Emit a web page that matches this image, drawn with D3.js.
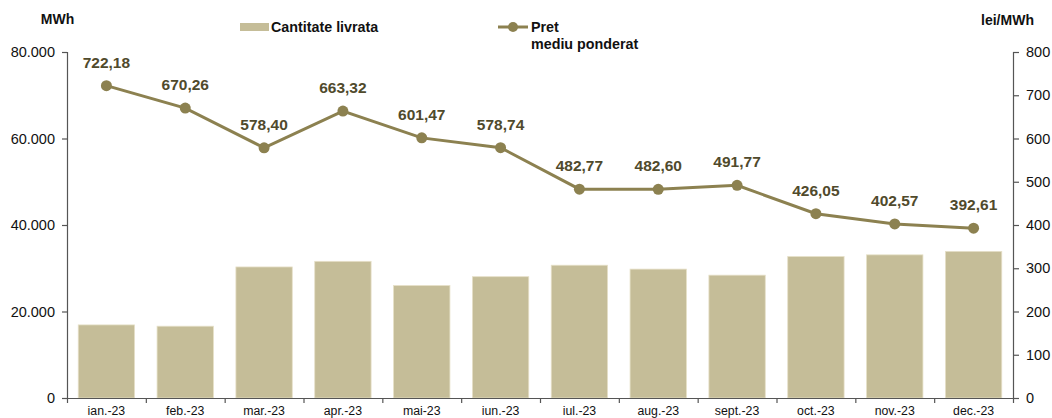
<!DOCTYPE html>
<html><head><meta charset="utf-8">
<script src="https://cdn.jsdelivr.net/npm/d3@7"></script>
<style>body{margin:0;background:#fff}svg{display:block}text{font-family:"Liberation Sans",Arial,sans-serif}</style>
</head><body><svg id="c" width="1052" height="418"></svg>
<script>
const months = ["ian.-23","feb.-23","mar.-23","apr.-23","mai-23","iun.-23","iul.-23","aug.-23","sept.-23","oct.-23","nov.-23","dec.-23"];
const quantity = [16900,16600,30300,31600,26000,28050,30700,29800,28400,32700,33100,33900];
const price = [722.18,670.26,578.40,663.32,601.47,578.74,482.77,482.60,491.77,426.05,402.57,392.61];
const leftTicks = [0,20000,40000,60000,80000];
const rightTicks = [0,100,200,300,400,500,600,700,800];

const svg = d3.select("#c");
const L = 67, R = 1013, T = 52, B = 398;
const x = d3.scaleBand().domain(months).range([L, R]).paddingInner(0.285).paddingOuter(0.1425);
const yL = d3.scaleLinear().domain([0, 80000]).range([B, T]);
const yR = d3.scaleLinear().domain([0, 800]).range([B, T]);
const barCol = "#C5BD98", lineCol = "#8C8150", lblCol = "#504A2C";

svg.append("g").selectAll("rect").data(quantity).join("rect")
  .attr("x", (d,i) => x(months[i])).attr("width", x.bandwidth())
  .attr("y", d => yL(d)).attr("height", d => B - yL(d))
  .attr("fill", barCol).attr("stroke", "#E6E0C8").attr("stroke-width", 0.8);

const fmtL = d => d === 0 ? "0" : d3.format(",")(d).replace(/,/g, ".");
const gL = svg.append("g").attr("transform", `translate(${L},0)`)
  .call(d3.axisLeft(yL).tickValues(leftTicks).tickFormat(fmtL).tickSize(5).tickPadding(7));
const gR = svg.append("g").attr("transform", `translate(${R},0)`)
  .call(d3.axisRight(yR).tickValues(rightTicks).tickSize(6).tickPadding(7));
const xb = d3.scaleLinear().domain([0, 12]).range([L, R]);
const gX = svg.append("g").attr("transform", `translate(0,${B})`)
  .call(d3.axisBottom(xb).tickValues(d3.range(0, 13)).tickFormat("").tickSize(5).tickSizeOuter(0));
gX.append("g").selectAll("text").data(months).join("text")
  .attr("x", d => x(d) + x.bandwidth()/2).attr("y", 17).attr("text-anchor", "middle")
  .attr("fill", "#111").attr("font-size", 12.3).text(d => d);
[gL, gR, gX].forEach(g => {
  g.selectAll(".domain").attr("stroke", "#555").attr("stroke-width", 1.2);
  g.selectAll(".tick line").attr("stroke", "#555").attr("stroke-width", 1.2);
});
gL.selectAll(".tick text").attr("font-size", 14.5).attr("fill", "#111");
gR.selectAll(".tick text").attr("font-size", 14.5).attr("fill", "#111");

const cx = (d,i) => x(months[i]) + x.bandwidth()/2;
svg.append("path").datum(price)
  .attr("d", d3.line().x(cx).y(d => yR(d)))
  .attr("fill", "none").attr("stroke", lineCol).attr("stroke-width", 3);
svg.append("g").selectAll("circle").data(price).join("circle")
  .attr("cx", cx).attr("cy", d => yR(d)).attr("r", 5.5).attr("fill", lineCol);
svg.append("g").selectAll("text").data(price).join("text")
  .attr("x", cx).attr("y", d => yR(d) - 18).attr("text-anchor", "middle")
  .attr("font-size", 15.5).attr("font-weight", "bold").attr("fill", lblCol)
  .text(d => d.toFixed(2).replace(".", ","));

svg.append("text").attr("x", 57.5).attr("y", 24).attr("text-anchor", "middle")
  .attr("font-size", 14).attr("font-weight", "bold").attr("fill", "#111").text("MWh");
svg.append("text").attr("x", 1007.5).attr("y", 25).attr("text-anchor", "middle")
  .attr("font-size", 14).attr("font-weight", "bold").attr("fill", "#111").text("lei/MWh");

svg.append("rect").attr("x", 240).attr("y", 23).attr("width", 29).attr("height", 8).attr("fill", barCol);
svg.append("text").attr("x", 271).attr("y", 31.5).attr("font-size", 14.3).attr("font-weight", "bold").attr("fill", "#111").text("Cantitate livrata");
svg.append("line").attr("x1", 498).attr("x2", 528).attr("y1", 27).attr("y2", 27).attr("stroke", lineCol).attr("stroke-width", 3);
svg.append("circle").attr("cx", 513).attr("cy", 27).attr("r", 5).attr("fill", lineCol);
svg.append("text").attr("x", 531).attr("y", 31.5).attr("font-size", 14.3).attr("font-weight", "bold").attr("fill", "#111").text("Pret");
svg.append("text").attr("x", 531).attr("y", 49).attr("font-size", 14.3).attr("font-weight", "bold").attr("fill", "#111").text("mediu ponderat");
</script></body></html>
